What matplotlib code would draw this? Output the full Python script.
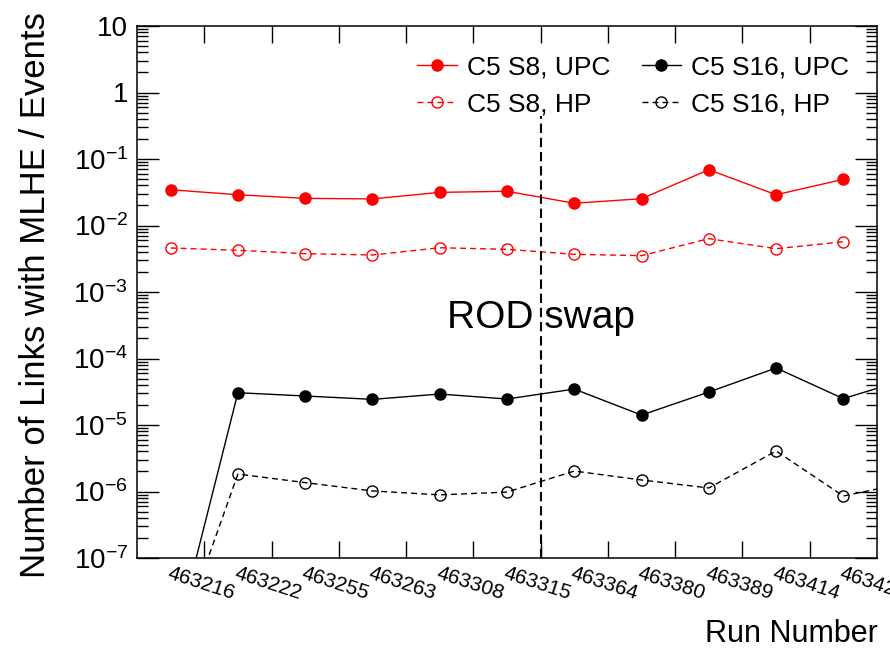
import numpy as np
import matplotlib
matplotlib.use("Agg")
import matplotlib.pyplot as plt
from matplotlib.ticker import LogLocator, FuncFormatter, NullFormatter

plt.rcParams['font.family'] = ['Liberation Sans', 'DejaVu Sans']
plt.rcParams['mathtext.fontset'] = 'custom'
plt.rcParams['mathtext.rm'] = 'Liberation Sans'
plt.rcParams['mathtext.it'] = 'Liberation Sans:italic'
plt.rcParams['mathtext.bf'] = 'Liberation Sans:bold'

runs = ['463216', '463222', '463255', '463263', '463308', '463315',
        '463364', '463380', '463389', '463414', '463427']

s8_upc = [0.0345, 0.029, 0.0256, 0.0251, 0.0315, 0.0327,
          0.0216, 0.0253, 0.069, 0.029, 0.0495]
s8_hp = [0.00459, 0.00424, 0.00377, 0.0036, 0.00463, 0.00438,
         0.00369, 0.00352, 0.00634, 0.00448, 0.0057]
# S16 has one more run past the plotted range (line leaves the frame)
s16_upc = [3e-9, 3.06e-5, 2.73e-5, 2.43e-5, 2.92e-5, 2.46e-5,
           3.47e-5, 1.41e-5, 3.13e-5, 7.2e-5, 2.49e-5, 5.1e-5]
s16_hp = [2.6e-9, 1.83e-6, 1.36e-6, 1.02e-6, 8.9e-7, 9.8e-7,
          2.03e-6, 1.49e-6, 1.13e-6, 4.06e-6, 8.55e-7, 1.39e-6]

swap_after = '463315'
swap_top = 0.45
swap_text_y = 4.1e-4

fig = plt.figure(figsize=(8.9, 6.48), dpi=100)
ax = fig.add_axes([137/890, 1-558/648, 740/890, 532/648])

x8 = np.arange(len(s8_upc))
x16 = np.arange(len(s16_upc))

ax.plot(x8, s8_upc, color='red', lw=1, marker='o', ms=8, label='C5 S8, UPC')
ax.plot(x8, s8_hp, color='red', lw=1, ls=(0, (4.3, 2.9)), marker='o', ms=8,
        mfc='none', mew=1, label='C5 S8, HP')
ax.plot(x16, s16_upc, color='black', lw=1, marker='o', ms=8, label='C5 S16, UPC')
ax.plot(x16, s16_hp, color='black', lw=1, ls=(0, (4.3, 2.9)), marker='o', ms=8,
        mfc='none', mew=1, label='C5 S16, HP')

ax.set_yscale('log')
ax.set_ylim(1e-7, 10)
ax.set_xlim(-0.5, len(runs) - 0.5)

# ROD swap marker
xs = runs.index(swap_after) + 0.5
ax.plot([xs, xs], [1e-7, swap_top], color='black', lw=1.5, ls=(0, (4.5, 2.3)))
ax.text(xs, swap_text_y, 'ROD swap', ha='center', va='center', fontsize=28)

# x axis: labels at bin centres, ticks at bin edges
ax.set_xticks(np.arange(len(runs)))
ax.set_xticklabels(runs, rotation=-18, ha='left', va='top',
                   rotation_mode='anchor', fontsize=15)
ax.set_xticks(np.arange(len(runs) - 1) + 0.5, minor=True)
ax.tick_params(axis='x', which='major', length=0, pad=4)
ax.tick_params(axis='x', which='minor', length=12, width=1, direction='in',
               top=True, bottom=True)


def fmt(v, pos):
    e = int(round(np.log10(v)))
    if e == 0:
        return '1'
    if e == 1:
        return '10'
    return r'$\mathregular{10^{%d}}$' % e


ax.yaxis.set_major_locator(LogLocator(base=10, numticks=20))
ax.yaxis.set_minor_locator(LogLocator(base=10, subs=np.arange(2, 10), numticks=20))
ax.yaxis.set_major_formatter(FuncFormatter(fmt))
ax.yaxis.set_minor_formatter(NullFormatter())
ax.tick_params(axis='y', which='major', length=16, width=1, direction='in',
               left=True, right=True, labelsize=20, pad=6.5)
ax.tick_params(axis='y', which='minor', length=8, width=1, direction='in',
               left=True, right=True)

for s in ax.spines.values():
    s.set_linewidth(1.1)

ax.legend(ncol=2, frameon=False, fontsize=19, loc='upper left',
          bbox_to_anchor=(417/890, 1-55/648), bbox_transform=fig.transFigure,
          borderpad=0, borderaxespad=0, handlelength=1.5, handletextpad=0.38,
          columnspacing=1.2, labelspacing=0.52)

fig.text(878/890, 1-642/648, 'Run Number', ha='right', va='baseline', fontsize=22)
fig.text(36/890, 1-12/648, 'Number of Links with MLHE / Events', rotation=90,
         ha='center', va='top', fontsize=25)

fig.savefig('out.png', dpi=100)
